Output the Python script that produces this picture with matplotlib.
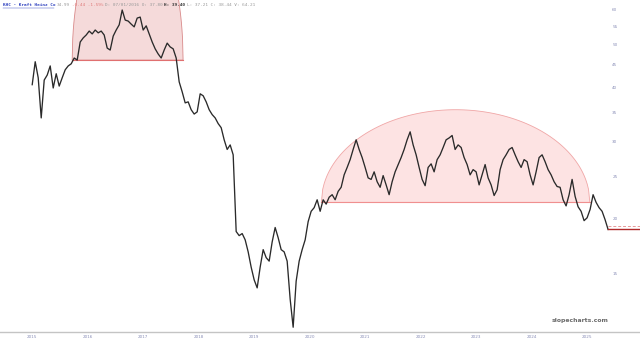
import numpy as np
import pandas as pd
import matplotlib
matplotlib.use("Agg")
import matplotlib.pyplot as plt
import matplotlib.dates as mdates
import matplotlib.transforms as mtrans
from matplotlib.patches import Polygon

# ---------------- data ----------------
title = "KHC - Kraft Heinz Co"
quote_last = "34.99"
quote_change = "-0.44 -1.59%"
quote_pre = "D: 07/01/2016 O: 37.80"
quote_high = "H: 39.40"
quote_post = "L: 37.21 C: 38.44 V: 64.21"

start_date = "2015-07-06"
end_date = "2025-11-20"
close = [
    40.5, 45.7, 42.0, 34.0, 41.5, 42.6, 44.7, 39.8, 42.9, 40.2, 42.0, 43.8, 44.7, 45.2, 46.6, 46.1,
    50.7, 51.8, 52.6, 53.7, 52.9, 54.0, 53.2, 53.7, 52.6, 49.1, 48.6, 52.3, 54.0, 55.5, 60.0, 56.9,
    56.6, 55.7, 54.9, 57.5, 57.8, 54.0, 55.2, 52.9, 50.7, 48.9, 47.6, 46.6, 48.6, 50.4, 49.4, 48.9,
    46.6, 41.1, 39.0, 36.8, 37.0, 35.5, 34.7, 35.1, 38.6, 38.2, 37.0, 35.5, 34.6, 34.0, 33.0, 32.3,
    30.3, 28.8, 29.5, 28.0, 18.7, 18.3, 18.5, 17.9, 16.8, 15.5, 14.5, 13.9, 15.5, 17.0, 16.3, 16.0,
    17.7, 19.1, 18.1, 17.0, 16.8, 16.0, 13.1, 11.3, 14.4, 16.0, 17.0, 17.9, 19.7, 20.8, 21.2, 22.1,
    20.8, 22.1, 21.6, 22.4, 22.7, 22.1, 23.1, 23.6, 25.2, 26.2, 27.3, 28.8, 30.3, 28.8, 27.6, 26.2,
    24.8, 24.6, 25.6, 24.3, 23.6, 25.1, 23.9, 22.7, 24.3, 25.6, 26.6, 27.6, 28.8, 30.3, 31.6, 29.5,
    28.0, 26.2, 24.6, 23.8, 26.2, 26.7, 25.6, 27.3, 28.0, 29.1, 30.3, 30.6, 31.0, 28.8, 29.5, 29.1,
    27.6, 26.6, 25.2, 25.9, 25.6, 23.9, 25.2, 26.6, 24.8, 23.9, 22.6, 23.3, 25.9, 27.3, 28.0, 28.8,
    29.1, 28.0, 27.0, 26.2, 27.3, 27.0, 25.2, 23.9, 25.6, 27.6, 28.0, 27.0, 25.9, 25.2, 24.3, 23.7,
    23.6, 22.1, 21.4, 22.7, 24.6, 22.5, 21.3, 20.8, 19.8, 20.1, 21.0, 22.7, 21.8, 21.2, 20.8, 19.9,
    18.9,
]
ref_level = 19.3

year_labels = ["2015", "2016", "2017", "2018", "2019", "2020",
               "2021", "2022", "2023", "2024", "2025"]
price_ticks = [60, 55, 50, 45, 40, 35, 30, 25, 20, 15]

dome1_start, dome1_end, dome1_base, dome1_apex = "2016-03-25", "2018-03-25", 46.1, 102.7
dome2_start, dome2_end, dome2_base, dome2_apex = "2020-09-20", "2025-07-23", 21.8, 35.5

x_min, x_max = "2014-12-06", "2026-06-18"
y_min, y_max = 11.02, 63.24

# ---------------- figure ----------------
fig = plt.figure(figsize=(6.4, 3.43), dpi=100)
ax = fig.add_axes([0, 11 / 343, 1, 332 / 343])
ax.set_yscale("log")

dates = pd.date_range(start_date, end_date, periods=len(close))


def dome(start, end, base, apex, face, edge, basecol):
    s, e = mdates.date2num(pd.Timestamp(start)), mdates.date2num(pd.Timestamp(end))
    u = np.linspace(-1, 1, 200)
    xs = (s + e) / 2 + u * (e - s) / 2
    ys = np.exp(np.log(base) + (np.log(apex) - np.log(base)) * np.sqrt(np.clip(1 - u ** 2, 0, 1)))
    poly = Polygon(np.column_stack([xs, ys]), closed=True, facecolor=face,
                   edgecolor=edge, lw=0.6, zorder=1)
    ax.add_patch(poly)
    ax.plot([s, e], [base, base], color=basecol, lw=0.8, zorder=1.5)


dome(dome1_start, dome1_end, dome1_base, dome1_apex, "#f5dada", "#d98a8a", "#e07070")
dome(dome2_start, dome2_end, dome2_base, dome2_apex, "#fde3e3", "#f0a6a6", "#f08f8f")

ax.plot(mdates.date2num(dates), close, color="#2a2a2a", lw=0.95, zorder=3)

xr = mdates.date2num(pd.Timestamp(x_max))
xl = mdates.date2num(dates[-1])
ax.plot([xl, xr], [close[-1], close[-1]], color="#b02a2a", lw=1.0, zorder=3)
ax.plot([xl, xr], [ref_level, ref_level], color="#e89a9a", lw=0.7, ls=(0, (3, 2)), zorder=2)

ax.set_xlim(mdates.date2num(pd.Timestamp(x_min)), xr)
ax.set_ylim(y_min, y_max)

# axes styling
for side in ["top", "left", "right"]:
    ax.spines[side].set_visible(False)
ax.spines["bottom"].set_color("#c4c4c4")
ax.spines["bottom"].set_linewidth(1.0)

ax.set_xticks([mdates.date2num(pd.Timestamp(f"{y}-07-06")) for y in year_labels])
ax.set_xticklabels(year_labels)
ax.tick_params(axis="x", length=0, pad=2, labelsize=3, labelcolor="#8a8fb8")

ax.yaxis.tick_right()
ax.set_yticks(price_ticks)
ax.set_yticklabels([str(v) for v in price_ticks])
ax.yaxis.set_minor_locator(matplotlib.ticker.NullLocator())
ax.tick_params(axis="y", length=0, pad=-20, labelsize=3, labelcolor="#8a8fb8")

# watermark
ax.text(0.95, 0.028, "slopecharts.com", transform=ax.transAxes, ha="right", va="bottom",
        fontsize=4.4, color="#6a6a6a", fontweight="bold")

# header
pieces = [(title, "#2c3fbf", True), (quote_last, "#9a9a9a", False),
          (quote_change, "#e07b7b", False), (quote_pre, "#9a9a9a", False),
          (quote_high, "#333333", False), (quote_post, "#9a9a9a", False)]
xpix = 3
char_w = 2.55
for text, col, under in pieces:
    tr = mtrans.offset_copy(fig.transFigure, fig=fig, x=xpix * 0.72, y=-5 * 0.72, units="points")
    fig.text(0, 1, text, transform=tr, fontsize=3.2, family="DejaVu Sans Mono",
             color=col, ha="left", va="center",
             fontweight="bold" if col == "#333333" or under else "normal")
    if under:
        w = len(text) * char_w
        fig.add_artist(matplotlib.lines.Line2D([xpix / 640, (xpix + w) / 640],
                                               [1 - 7.5 / 343, 1 - 7.5 / 343],
                                               transform=fig.transFigure, color=col, lw=0.3))
    xpix += (len(text) + 1) * char_w

fig.savefig("out.png", dpi=100)
